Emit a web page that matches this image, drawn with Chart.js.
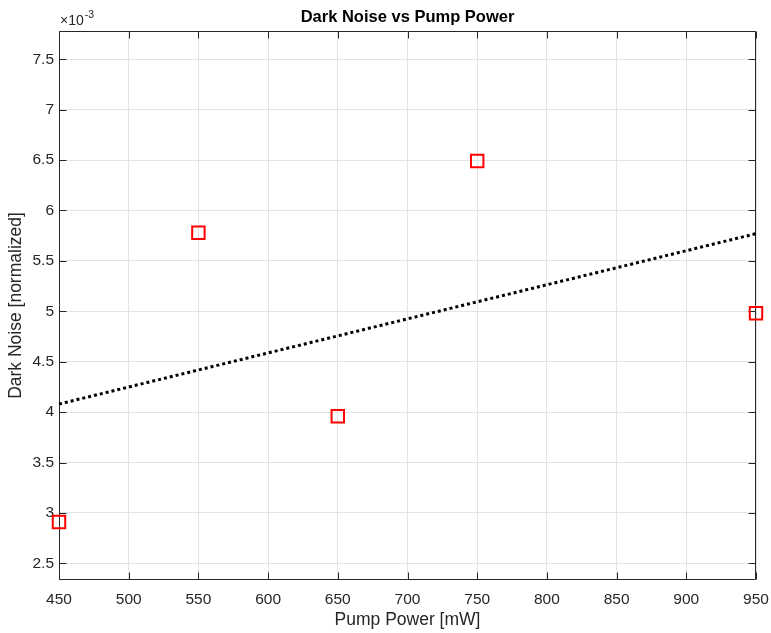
<!DOCTYPE html>
<html>
<head>
<meta charset="utf-8">
<script src="https://cdn.jsdelivr.net/npm/chart.js@4.4.1/dist/chart.umd.min.js"></script>
<style>
  html, body { margin: 0; padding: 0; background: #ffffff; }
  canvas { display: block; }
</style>
</head>
<body>
<canvas id="chart" width="771" height="633"></canvas>
<script>
// Measurements (dark noise in units of 1e-3, normalized)
const pumpPower = [450, 550, 650, 750, 950];
const darkNoise = [2.91, 5.78, 3.96, 6.49, 4.98];

// Linear trend line end points
const trendPower = [450, 950];
const trendNoise = [4.08, 5.77];

// Axis ticks and ranges
const xTicks = [450, 500, 550, 600, 650, 700, 750, 800, 850, 900, 950];
const yTicks = [2.5, 3, 3.5, 4, 4.5, 5, 5.5, 6, 6.5, 7, 7.5];
const xRange = [450, 950];
const yRange = [2.335, 7.78];

const FONT = '"Liberation Sans", Arial, Helvetica, sans-serif';
const AXIS_COLOR = '#262626';
const GRID_COLOR = '#e3e3e3';

// Draws the axes box with inward tick marks on all four sides
const boxPlugin = {
  id: 'axesBox',
  beforeDatasetsDraw(chart) {
    const { ctx, chartArea: a, scales: { x, y } } = chart;
    const L = Math.round(a.left) + 0.5, R = Math.round(a.right) - 0.5;
    const T = Math.round(a.top) + 0.5, B = Math.round(a.bottom) - 0.5;
    const tl = 7;
    ctx.save();
    ctx.strokeStyle = AXIS_COLOR;
    ctx.lineWidth = 1;
    ctx.beginPath();
    ctx.rect(L, T, R - L, B - T);
    xTicks.forEach(v => {
      const px = Math.round(x.getPixelForValue(v)) + 0.5;
      ctx.moveTo(px, B); ctx.lineTo(px, B - tl);
      ctx.moveTo(px, T); ctx.lineTo(px, T + tl);
    });
    yTicks.forEach(v => {
      const py = Math.round(y.getPixelForValue(v)) + 0.5;
      ctx.moveTo(L, py); ctx.lineTo(L + tl, py);
      ctx.moveTo(R, py); ctx.lineTo(R - tl, py);
    });
    ctx.stroke();
    ctx.restore();
  },
  afterDraw(chart) {
    const { ctx, chartArea: a } = chart;
    ctx.save();
    // Title
    ctx.fillStyle = '#000000';
    ctx.font = 'bold 16.5px ' + FONT;
    ctx.textAlign = 'center';
    ctx.textBaseline = 'middle';
    ctx.fillText('Dark Noise vs Pump Power', (a.left + a.right) / 2, 17);
    // Exponent label of the y axis
    ctx.fillStyle = AXIS_COLOR;
    ctx.textAlign = 'left';
    ctx.textBaseline = 'alphabetic';
    ctx.font = '14px ' + FONT;
    ctx.fillText('\u00d710', 60, 25);
    const w = ctx.measureText('\u00d710').width;
    ctx.font = '10.5px ' + FONT;
    ctx.fillText('-3', 60 + w + 1, 18);
    ctx.restore();
  }
};

new Chart(document.getElementById('chart'), {
  type: 'scatter',
  data: {
    datasets: [
      {
        label: 'Dark noise',
        data: pumpPower.map((p, i) => ({ x: p, y: darkNoise[i] })),
        pointStyle: 'rect',
        pointRadius: 8.8,
        pointHoverRadius: 8.8,
        pointBorderWidth: 2,
        borderColor: '#ff0000',
        backgroundColor: 'rgba(0,0,0,0)',
        clip: false
      },
      {
        label: 'Trend',
        type: 'line',
        data: trendPower.map((p, i) => ({ x: p, y: trendNoise[i] })),
        borderColor: '#000000',
        borderWidth: 3,
        borderDash: [3, 3],
        pointRadius: 0,
        fill: false,
        clip: false
      }
    ]
  },
  options: {
    responsive: false,
    animation: false,
    events: [],
    layout: { padding: { top: 31, right: 15, left: 0, bottom: 0 } },
    plugins: { legend: { display: false }, tooltip: { enabled: false }, title: { display: false } },
    scales: {
      x: {
        type: 'linear',
        min: xRange[0],
        max: xRange[1],
        afterBuildTicks: s => { s.ticks = xTicks.map(v => ({ value: v })); },
        afterFit: s => { s.height = 53; s.paddingLeft = 0; s.paddingRight = 0; },
        border: { display: false },
        grid: { color: GRID_COLOR, lineWidth: 1, drawTicks: false },
        ticks: {
          padding: 10,
          color: AXIS_COLOR,
          font: { family: FONT, size: 15.5 },
          maxRotation: 0,
          callback: v => String(v)
        },
        title: {
          display: true,
          text: 'Pump Power [mW]',
          color: AXIS_COLOR,
          font: { family: FONT, size: 17.5 },
          padding: { top: 0, bottom: 2 }
        }
      },
      y: {
        type: 'linear',
        min: yRange[0],
        max: yRange[1],
        afterBuildTicks: s => { s.ticks = yTicks.map(v => ({ value: v })); },
        afterFit: s => { s.width = 59; s.paddingTop = 0; s.paddingBottom = 0; },
        border: { display: false },
        grid: { color: GRID_COLOR, lineWidth: 1, drawTicks: false },
        ticks: {
          padding: 5,
          color: AXIS_COLOR,
          font: { family: FONT, size: 15.5 },
          callback: v => String(v)
        },
        title: {
          display: true,
          text: 'Dark Noise [normalized]',
          color: AXIS_COLOR,
          font: { family: FONT, size: 17.5 },
          padding: { top: 6, bottom: 0 }
        }
      }
    }
  },
  plugins: [boxPlugin]
});
</script>
</body>
</html>
